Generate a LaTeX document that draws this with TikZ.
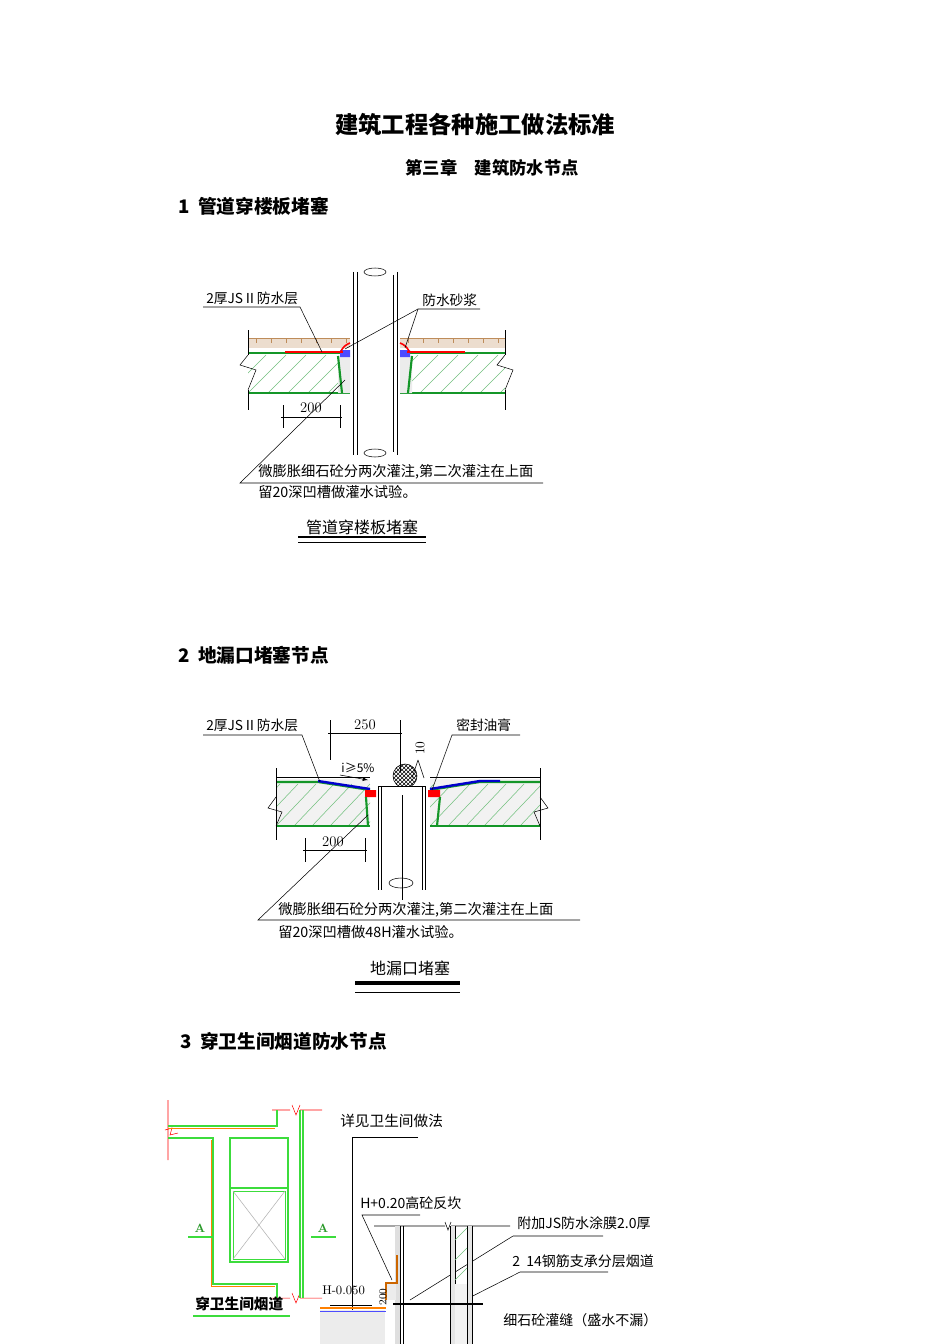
\documentclass[tikz,border=0pt]{standalone}
\usepackage{fontspec}
\newfontfamily\cjk{Noto Sans CJK SC}
\usetikzlibrary{patterns}
\definecolor{gr}{RGB}{20,150,40}
\definecolor{lg}{RGB}{60,220,60}
\definecolor{br}{RGB}{190,140,90}
\begin{document}
\begin{tikzpicture}[x=0.75pt,y=-0.75pt,
 lbl/.style={font=\cjk\fontsize{10.3}{12}\selectfont,anchor=west,inner sep=0pt},
 note/.style={font=\cjk\fontsize{10.7}{12}\selectfont,anchor=west,inner sep=0pt},
 big/.style={font=\cjk\bfseries\fontsize{14}{16}\selectfont,anchor=west,inner sep=0pt},
 thin/.style={line width=0.4pt},
 grn/.style={gr,line width=1.6pt},
 redl/.style={red,line width=2.2pt},
 hatch/.style={gr!60,line width=0.4pt}]
\useasboundingbox (0,0) rectangle (950,1344);
\fill[white] (0,0) rectangle (950,1344);
\node[font=\cjk\bfseries\fontsize{17.5}{20}\selectfont] (title) at (475,125) {建筑工程各种施工做法标准};
\node[font=\cjk\bfseries\fontsize{13}{15}\selectfont] (chap) at (492,168) {第三章\quad 建筑防水节点};
\node[big] (s1) at (178,206) {1\ \ 管道穿楼板堵塞};
\node[big] (s2) at (178,655) {2\ \ 地漏口堵塞节点};
\node[big] (s3) at (180,1041) {3\ \ 穿卫生间烟道防水节点};

% ---------- diagram 1 ----------
\foreach \a/\b in {248/350,400/505}{
 \fill[br!30] (\a,338) rectangle (\b,348);
 \draw[br,thin] (\a,338) -- (\b,338);
 \foreach \k in {0,...,6}{\draw[br,thin] ({\a+8+\k*15},338)--({\a+8+\k*15},343);}
 \begin{scope}
 \clip (\a,354) rectangle (\b,392);
 \foreach \k in {-2,...,6}{\draw[hatch] ({\a+\k*20},393) -- ({\a+\k*20+38},355);}
 \end{scope}
 \draw[grn] (\a,353) -- (\b,353);
 \draw[grn] (\a,393) -- (\b,393);
}
\draw[thin] (248,330)--(248,355) (248,390)--(248,410);
\draw[thin] (248,355)--(240,365)--(256,370)--(248,390);
\draw[thin] (505,330)--(505,355) (505,390)--(505,410);
\draw[thin] (505,355)--(497,365)--(513,370)--(505,390);
\fill[gray!15] (338,356) rectangle (350,393) (400,356) rectangle (412,393);
\draw[grn] (338,356)--(342,393) (412,356)--(408,393);
\fill[blue!70] (340,350) rectangle (350,357) (400,350) rectangle (410,357);
\draw[redl] (285,352)--(343,352);
\draw[redl] (407,352)--(465,352);
\draw[red,line width=1.2pt] (341,351) to[bend left=20] (350,343) (409,351) to[bend right=20] (400,343);
\fill[white] (353,272) rectangle (397,455);
\draw[thin] (353,272)--(353,455) (357,272)--(357,455) (397,272)--(397,455) (393,275)--(393,452);
\draw[thin] (375,272) ellipse (11 and 4); \draw[thin] (375,453) ellipse (11 and 4);
\node[lbl] (l1) at (206,298) {2厚JSⅡ防水层};
\draw[thin] (203,307)--(300,307)--(322,352);
\node[lbl] (l2) at (422,300) {防水砂浆};
\draw[thin] (345,349)--(418,309)--(480,309);
\draw[thin] (418,309)--(405,348);
\draw[thin] (283,405)--(283,428) (340,405)--(340,428) (281,417)--(342,417);
\node[font=\fontsize{11}{13}\selectfont] (d1) at (311,408) {200};
\node[note] (n1) at (258,472) {微膨胀细石砼分两次灌注,第二次灌注在上面};
\node[note] (n1b) at (258,492) {留20深凹槽做灌水试验。};
\draw[thin] (543,483)--(240,483)--(345,380);
\node[font=\cjk\fontsize{12}{14}\selectfont] (c1) at (362,527) {管道穿楼板堵塞};
\draw[line width=1.4pt] (298,537)--(426,537); \draw[thin] (298,542)--(426,542);

% ---------- diagram 2 ----------
\foreach \a/\b in {276/370,430/540}{
 \fill[gray!10] (\a,779) rectangle (\b,826);
 \begin{scope}
 \clip (\a,783) rectangle (\b,825);
 \foreach \k in {-3,...,6}{\draw[hatch] ({\a+\k*18},826) -- ({\a+\k*18+40},784);}
 \end{scope}
 \draw[grn] (\a,826) -- (\b,826);
 \draw[thin] (\a,777)--(\b,777);
}
\draw[grn] (276,782)--(318,782)--(370,790);
\draw[grn] (430,790)--(480,782)--(540,782);
\draw[blue!80!black,line width=1.8pt] (318,781)--(370,789);
\draw[blue!80!black,line width=1.8pt] (430,789)--(480,781)--(500,781);
\fill[red] (365,790) rectangle (376,797) (428,790) rectangle (440,797);
\draw[grn] (366,797)--(368,826) (440,797)--(437,826);
\draw[thin] (276,768)--(276,840) (540,768)--(540,840);
\draw[thin] (276,797)--(268,808)--(282,812)--(276,826);
\draw[thin] (540,797)--(548,808)--(534,812)--(540,826);
\draw[thin,pattern=crosshatch] (405,776) circle (12);
\fill[white] (378,786) rectangle (425,890);
\draw[thin] (378,786)--(378,890) (381,786)--(381,890) (425,786)--(425,890) (422,786)--(422,890) (378,786)--(425,786);
\draw[thin] (402,795)--(402,900);
\draw[thin] (401,883) ellipse (12 and 5);
\draw[thin] (330,720)--(330,760) (400,720)--(400,772) (328,733)--(402,733);
\node[font=\fontsize{11}{13}\selectfont] (d2) at (365,725) {250};
\node[font=\fontsize{10}{12}\selectfont,rotate=90] (ten) at (420,748) {10};
\draw[thin] (418,760)--(412,778) (418,760)--(424,778);
\node[font=\cjk\fontsize{9}{11}\selectfont] (sl) at (358,768) {i≥5\%};
\draw[thin,-latex] (340,775)--(368,780);
\node[lbl] (l3) at (206,725) {2厚JSⅡ防水层};
\draw[thin] (203,735)--(302,735)--(320,782);
\node[lbl] (l4) at (456,725) {密封油膏};
\draw[thin] (520,735)--(452,735)--(432,790);
\draw[thin] (305,838)--(305,862) (365,838)--(365,862) (303,850)--(367,850);
\node[font=\fontsize{11}{13}\selectfont] (d3) at (333,842) {200};
\node[note] (n2) at (278,910) {微膨胀细石砼分两次灌注,第二次灌注在上面};
\node[note] (n2b) at (278,932) {留20深凹槽做48H灌水试验。};
\draw[thin] (580,920)--(258,920)--(368,815);
\node[font=\cjk\fontsize{12}{14}\selectfont] (c2) at (410,968) {地漏口堵塞};
\draw[line width=2.6pt] (355,983)--(460,983); \draw[thin] (355,992)--(460,992);

% ---------- diagram 3 plan ----------
\draw[red,thin] (168,1100)--(168,1160) (165,1130)--(172,1128)--(170,1135)--(178,1133);
\draw[red,thin] (272,1110)--(290,1110) (292,1105)--(296,1115)--(300,1105) (300,1110)--(322,1110);
\draw[red,thin] (272,1298)--(290,1298) (292,1293)--(296,1303)--(300,1293) (300,1298)--(322,1298);
\draw[lg,line width=0.8pt] (168,1126)--(277,1126)--(277,1110);
\draw[orange,line width=0.5pt] (168,1128)--(275,1128);
\draw[lg,line width=0.8pt] (168,1138)--(213,1138)--(213,1284)--(277,1284)--(277,1298);
\draw[orange,line width=0.5pt] (211,1140)--(211,1286)--(275,1286);
\draw[lg,line width=0.8pt] (300,1110)--(300,1298) (303,1110)--(303,1298);
\draw[lg,line width=0.8pt] (230,1138) rectangle (288,1262) (230,1188)--(288,1188);
\draw[lg,line width=0.6pt] (233,1191) rectangle (285,1259);
\draw[gray!60,thin] (233,1191)--(285,1259) (285,1191)--(233,1259);
\node[font=\bfseries\fontsize{9}{10}\selectfont,lg!70!black] (A1) at (200,1228) {A};
\draw[lg,line width=1.2pt] (188,1237)--(212,1237);
\node[font=\bfseries\fontsize{9}{10}\selectfont,lg!70!black] (A2) at (323,1228) {A};
\draw[lg,line width=1.2pt] (311,1237)--(336,1237);
\node[lbl,font=\cjk\bfseries\fontsize{11}{13}\selectfont] (c3) at (195,1304) {穿卫生间烟道};
\draw[lg,line width=1.2pt] (193,1316)--(290,1316);

% ---------- diagram 3 section ----------
\node[lbl,font=\cjk\fontsize{11}{13}\selectfont] (l5) at (340,1121) {详见卫生间做法};
\draw[thin] (418,1137)--(352,1137)--(352,1330);
\node[lbl,font=\cjk\fontsize{10.5}{12}\selectfont] (l6) at (360,1203) {H+0.20高砼反坎};
\draw[thin] (420,1215)--(362,1215)--(392,1280);
\draw[thin] (374,1226)--(445,1226) (445,1222)--(448,1230)--(451,1222) (451,1226)--(480,1226) (480,1226)--(510,1226);
\node[lbl,font=\cjk\fontsize{10.5}{12}\selectfont] (l7) at (517,1223) {附加JS防水涂膜2.0厚};
\draw[thin] (513,1236)--(603,1236) (513,1236)--(410,1300);
\node[lbl,font=\cjk\fontsize{10.5}{12}\selectfont] (l8) at (512,1261) {2\ \ 14钢筋支承分层烟道};
\draw[thin] (520,1272)--(608,1272) (520,1272)--(455,1305);
\node[lbl,font=\cjk\fontsize{10.5}{12}\selectfont] (l9) at (503,1320) {细石砼灌缝（盛水不漏）};
\fill[gray!25] (395,1226) rectangle (400,1344);
\draw[thin] (400,1226)--(400,1344) (403,1226)--(403,1344);
\draw[orange!80!black,line width=1.2pt] (397,1255)--(397,1283)--(386,1283)--(386,1300);
\fill[gray!15] (387,1284) rectangle (396,1300);
\fill[gray!20] (450,1226) rectangle (455,1344) (467,1226) rectangle (472,1344);
\draw[thin] (450,1226)--(450,1344) (455,1226)--(455,1344) (467,1226)--(467,1344) (472,1226)--(472,1344);
\draw[hatch] (455,1240)--(467,1228) (455,1260)--(467,1248) (455,1280)--(467,1268);
\fill[gray!10] (455,1284) rectangle (467,1344);
\draw[line width=1.6pt] (393,1304)--(483,1304);
\node[lbl,font=\fontsize{9.5}{11}\selectfont] (h1) at (322,1290) {H-0.050};
\node[font=\fontsize{8}{9}\selectfont,rotate=90] (t200) at (383,1297) {200};
\fill[gray!15] (320,1310) rectangle (385,1344);
\draw[orange,line width=1.2pt] (320,1308)--(386,1308);
\draw[blue!70,thin] (320,1311)--(386,1311);
\draw[thin] (330,1305)--(372,1305);
\end{tikzpicture}
\end{document}
